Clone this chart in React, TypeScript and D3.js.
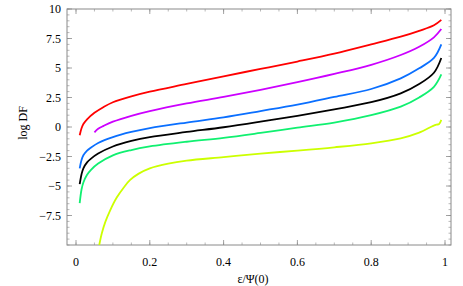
import React from 'react';
import * as d3 from 'd3';

// curve data: [eps/Psi(0), log DF]
const redSeries: [number, number][] = [
    [0.01, -0.7], [0.015, -0.1], [0.02, 0.25], [0.03, 0.65], [0.05, 1.2], [0.075, 1.7],
    [0.1, 2.1], [0.15, 2.6], [0.2, 3.0], [0.3, 3.65], [0.4, 4.3], [0.5, 4.92],
    [0.6, 5.55], [0.7, 6.22], [0.8, 7.0], [0.88, 7.65], [0.93, 8.15], [0.97, 8.62], [0.99, 9.08]
];
const magentaSeries: [number, number][] = [
    [0.05, -0.45], [0.06, -0.15], [0.075, 0.1], [0.1, 0.45], [0.15, 0.95], [0.2, 1.35],
    [0.3, 2.0], [0.4, 2.55], [0.5, 3.15], [0.6, 3.8], [0.7, 4.5], [0.8, 5.27],
    [0.88, 6.1], [0.93, 6.8], [0.97, 7.6], [0.99, 8.3]
];
const blueSeries: [number, number][] = [
    [0.01, -3.5], [0.015, -2.8], [0.02, -2.4], [0.03, -2.0], [0.04, -1.75], [0.06, -1.35],
    [0.1, -0.85], [0.15, -0.42], [0.2, -0.1], [0.3, 0.38], [0.4, 0.82], [0.5, 1.35],
    [0.6, 1.9], [0.7, 2.55], [0.8, 3.22], [0.88, 4.12], [0.93, 4.97], [0.97, 5.85], [0.99, 7.0]
];
const blackSeries: [number, number][] = [
    [0.01, -4.85], [0.015, -4.0], [0.02, -3.5], [0.03, -3.0], [0.04, -2.7], [0.06, -2.25],
    [0.1, -1.65], [0.15, -1.18], [0.2, -0.85], [0.3, -0.42], [0.4, -0.02], [0.5, 0.45],
    [0.6, 0.95], [0.7, 1.5], [0.8, 2.1], [0.88, 2.85], [0.93, 3.64], [0.97, 4.6], [0.99, 5.85]
];
const greenSeries: [number, number][] = [
    [0.01, -6.45], [0.015, -5.3], [0.02, -4.7], [0.03, -4.05], [0.04, -3.65], [0.06, -3.1],
    [0.1, -2.4], [0.15, -1.95], [0.2, -1.65], [0.3, -1.25], [0.4, -0.92], [0.5, -0.5],
    [0.6, -0.05], [0.7, 0.38], [0.8, 1.0], [0.88, 1.72], [0.93, 2.5], [0.97, 3.4], [0.99, 4.45]
];
const yellowSeries: [number, number][] = [
    [0.063, -10], [0.07, -9.0], [0.08, -8.0], [0.092, -7.1], [0.11, -6.0], [0.13, -5.1],
    [0.146, -4.5], [0.17, -3.95], [0.2, -3.5], [0.25, -3.1], [0.3, -2.85], [0.4, -2.55],
    [0.5, -2.25], [0.6, -2.0], [0.7, -1.72], [0.8, -1.38], [0.88, -0.96], [0.93, -0.48],
    [0.968, 0.1], [0.977, 0.2], [0.984, 0.25], [0.99, 0.6]
];

const curves = [
    { data: redSeries, color: '#ff0000' },
    { data: magentaSeries, color: '#cc00ff' },
    { data: blueSeries, color: '#0a6fff' },
    { data: blackSeries, color: '#000000' },
    { data: greenSeries, color: '#10f070' },
    { data: yellowSeries, color: '#ccff00' }
];

const xTicks = [0, 0.2, 0.4, 0.6, 0.8, 1];
const xTickLabels = ['0', '0.2', '0.4', '0.6', '0.8', '1'];
const yTicks = [-7.5, -5, -2.5, 0, 2.5, 5, 7.5, 10];
const yTickLabels = ['\u22127.5', '\u22125', '\u22122.5', '0', '2.5', '5', '7.5', '10'];

const W = 463, H = 286;
const frame = { left: 67, right: 451, top: 9, bottom: 245 };
const font = '"Liberation Serif", "DejaVu Serif", serif';

export default function App() {
    const x = d3.scaleLinear().domain([0, 1]).range([76, 445]);
    const xDomain = [x.invert(frame.left), x.invert(frame.right)];
    const y = d3.scaleLinear().domain([-10, 10]).range([frame.bottom, frame.top]);

    const line = d3.line<[number, number]>()
        .x(d => x(d[0]))
        .y(d => y(d[1]))
        .curve(d3.curveCatmullRom.alpha(0.5));

    const xMinor = d3.range(Math.ceil(xDomain[0] / 0.05) * 0.05, xDomain[1], 0.05);
    const yMinor = d3.range(-10, 10.001, 0.5);
    const axisColor = '#8a8a8a';

    return (
        <svg width={W} height={H} style={{ position: 'absolute', left: 0, top: 0 }}>
            <defs>
                <clipPath id="plot-clip">
                    <rect x={frame.left} y={frame.top} width={frame.right - frame.left} height={frame.bottom - frame.top} />
                </clipPath>
            </defs>
            <rect width={W} height={H} fill="#fff" />

            {/* minor ticks */}
            {xMinor.map((v, i) => (
                <g key={'xm' + i} stroke={axisColor} strokeWidth={0.6}>
                    <line x1={x(v)} x2={x(v)} y1={frame.bottom} y2={frame.bottom - 2.5} />
                    <line x1={x(v)} x2={x(v)} y1={frame.top} y2={frame.top + 2.5} />
                </g>
            ))}
            {yMinor.map((v, i) => (
                <g key={'ym' + i} stroke={axisColor} strokeWidth={0.6}>
                    <line x1={frame.left} x2={frame.left + 2.5} y1={y(v)} y2={y(v)} />
                    <line x1={frame.right} x2={frame.right - 2.5} y1={y(v)} y2={y(v)} />
                </g>
            ))}
            {/* major ticks */}
            {xTicks.map((v, i) => (
                <g key={'xM' + i} stroke={axisColor} strokeWidth={0.8}>
                    <line x1={x(v)} x2={x(v)} y1={frame.bottom} y2={frame.bottom - 5} />
                    <line x1={x(v)} x2={x(v)} y1={frame.top} y2={frame.top + 5} />
                </g>
            ))}
            {yTicks.map((v, i) => (
                <g key={'yM' + i} stroke={axisColor} strokeWidth={0.8}>
                    <line x1={frame.left} x2={frame.left + 5} y1={y(v)} y2={y(v)} />
                    <line x1={frame.right} x2={frame.right - 5} y1={y(v)} y2={y(v)} />
                </g>
            ))}

            <rect x={frame.left} y={frame.top} width={frame.right - frame.left} height={frame.bottom - frame.top}
                fill="none" stroke={axisColor} strokeWidth={1} />

            <g clipPath="url(#plot-clip)">
                {curves.map((c, i) => (
                    <path key={i} d={line(c.data) || ''} fill="none" stroke={c.color} strokeWidth={1.8} />
                ))}
            </g>

            {/* tick labels */}
            {xTicks.map((v, i) => (
                <text key={'xl' + i} x={x(v)} y={266} textAnchor="middle" fontFamily={font} fontSize={12}>
                    {xTickLabels[i]}
                </text>
            ))}
            {yTicks.map((v, i) => (
                <text key={'yl' + i} x={61} y={y(v) + 4} textAnchor="end" fontFamily={font} fontSize={12}>
                    {yTickLabels[i]}
                </text>
            ))}

            <text x={253} y={283} textAnchor="middle" fontFamily={font} fontSize={12}>ε/Ψ(0)</text>
            <text transform="translate(27,123) rotate(-90)" textAnchor="middle" fontFamily={font} fontSize={12}>log  DF</text>
        </svg>
    );
}
